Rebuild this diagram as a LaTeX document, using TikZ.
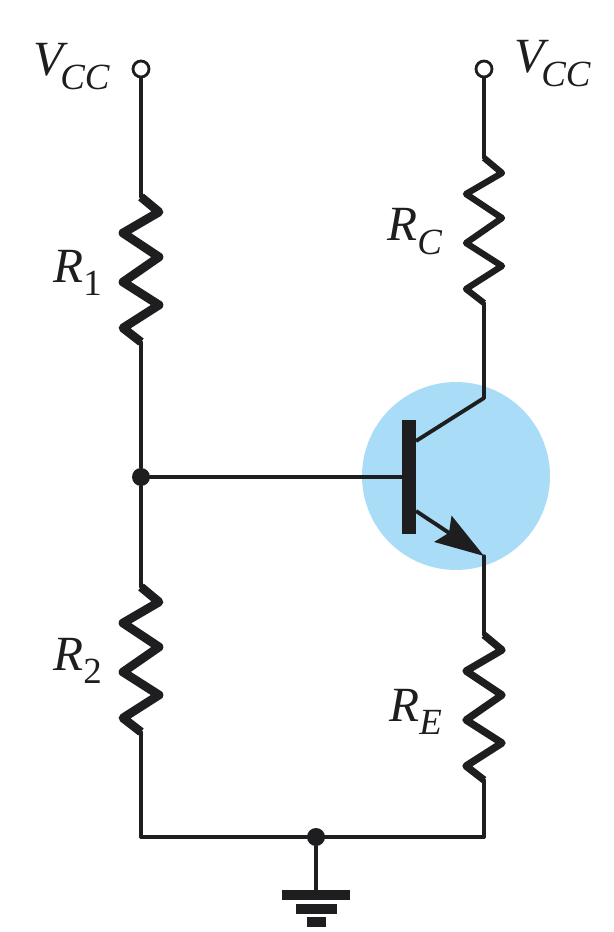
\documentclass[tikz,border=0pt]{standalone}
\usepackage{fontspec}
\setmainfont{Liberation Serif}
\usetikzlibrary{arrows.meta}
\definecolor{bjtblue}{RGB}{168,220,247}
\definecolor{inkblack}{RGB}{30,30,32}
\newcommand\subbed[3][0em]{\textit{#2}\kern#1\raisebox{-0.28em}{\fontsize{21}{24}\selectfont #3}}
\tikzset{
  wire/.style={draw=inkblack,line width=1.9pt,line cap=round},
  lbl/.style={inner sep=0pt,text=inkblack,font=\fontsize{28}{30}\selectfont},
  zigzag/.pic={
    \draw[draw=inkblack,line join=round] (0,0) -- (18,15) -- (-18,36) -- (18,60) -- (-18,85) -- (18,108) -- (-18,131) -- (0,145);
  }
}
\def\termnode{\node[circle,draw=inkblack,fill=white,line width=1.6pt,inner sep=0pt,minimum size=0.32cm]}
\def\dotnode{\node[circle,fill=inkblack,inner sep=0pt,minimum size=0.36cm]}
\def\groundbar{\node[rectangle,fill=inkblack,inner sep=0pt]}
\begin{document}
\begin{tikzpicture}[x=0.02cm,y=-0.02cm]
\useasboundingbox (0,0) rectangle (614,932);
\node[circle,fill=bjtblue,inner sep=0pt,minimum size=3.76cm] (halo) at (456,476) {};
% left branch
\termnode (vccl) at (141,69) {};
\coordinate (roneT) at (141,197);
\coordinate (roneB) at (141,342);
\dotnode (base) at (141,477) {};
\coordinate (rtwoT) at (141,587);
\coordinate (rtwoB) at (141,732);
\coordinate (botl) at (141,837);
\draw[wire] (vccl) -- (roneT);
\draw[wire] (roneB) -- (base);
\draw[wire] (base) -- (rtwoT);
\draw[wire] (rtwoB) -- (botl);
\pic[line width=5pt] at (roneT) {zigzag};
\pic[line width=5pt] at (rtwoT) {zigzag};
% right branch
\termnode (vccr) at (484,69) {};
\coordinate (rcT) at (484,158);
\coordinate (rcB) at (484,303);
\coordinate (coll) at (484,398);
\coordinate (emit) at (484,556);
\coordinate (reT) at (484,635);
\coordinate (reB) at (484,780);
\coordinate (botr) at (484,837);
\draw[wire] (vccr) -- (rcT);
\draw[wire] (rcB) -- (coll);
\draw[wire] (emit) -- (reT);
\draw[wire] (reB) -- (botr);
\pic[line width=3.6pt] at (rcT) {zigzag};
\pic[line width=4.2pt] at (reT) {zigzag};
% transistor
\node[rectangle,fill=inkblack,inner sep=0pt,minimum width=0.28cm,minimum height=2.28cm] (bar) at (409,477) {};
\coordinate (barC) at (416,441);
\coordinate (barE) at (416,511);
\draw[wire] (base) -- (bar);
\draw[draw=inkblack,line width=2.2pt] (barC) -- (coll);
\draw[draw=inkblack,line width=2.2pt,-{Stealth[length=0.98cm,width=0.62cm,inset=0.14cm]}] (barE) -- (emit);
% ground
\dotnode (gnd) at (316,837) {};
\draw[wire] (botl) -- (botr);
\groundbar[minimum width=1.36cm,minimum height=0.2cm] (gndA) at (316,895) {};
\groundbar[minimum width=0.82cm,minimum height=0.2cm] (gndB) at (316,909) {};
\groundbar[minimum width=0.38cm,minimum height=0.19cm] (gndC) at (316,922) {};
\draw[wire] (gnd) -- (gndA);
% labels
\node[lbl,anchor=base west] (lblvl) at (33,76) {\subbed[-0.16em]{V}{\textit{CC}}};
\node[lbl,anchor=base west] (lblvr) at (514,73) {\subbed[-0.16em]{V}{\textit{CC}}};
\node[lbl,anchor=base west] (lblrone) at (53,282) {\subbed{R}{1}};
\node[lbl,anchor=base west] (lblrc) at (387,241) {\subbed{R}{\textit{C}}};
\node[lbl,anchor=base west] (lblrtwo) at (53,670) {\subbed{R}{2}};
\node[lbl,anchor=base west] (lblre) at (389,721) {\subbed{R}{\textit{E}}};
\end{tikzpicture}
\end{document}
